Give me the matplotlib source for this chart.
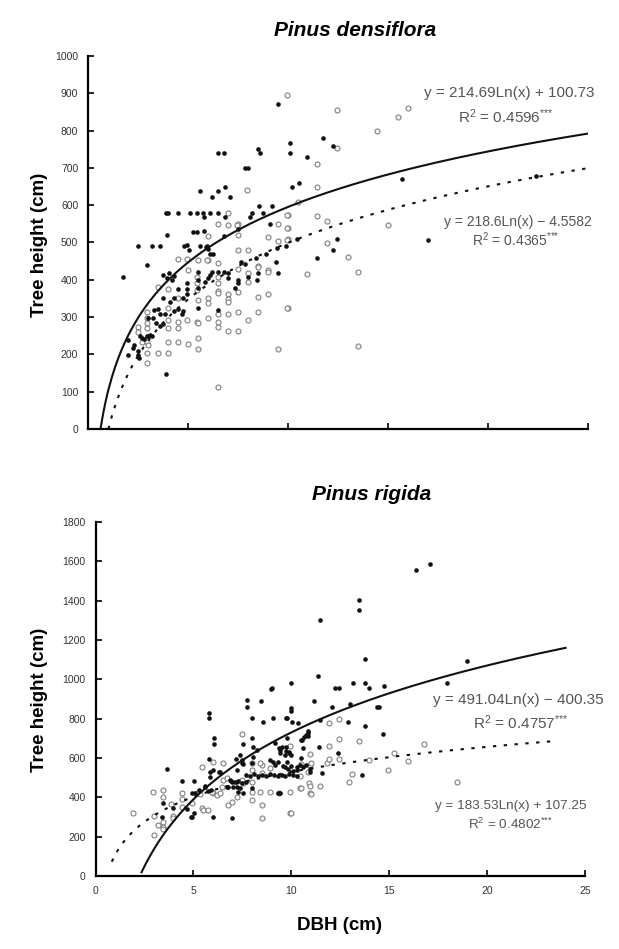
import numpy as np
import matplotlib
matplotlib.use("Agg")
import matplotlib.pyplot as plt

plt.rcParams['font.family'] = ['Liberation Sans', 'DejaVu Sans']
plt.rcParams['mathtext.default'] = 'regular'

# ---- Pinus densiflora (top) ----
top_filled_x = [1.75, 2.5, 3.2, 3.6, 2.95, 3.9, 4.0, 4.5, 5.1, 5.46, 5.76, 6.1, 6.5,
                5.6, 6.5, 6.86, 6.2, 7.1, 3.95, 4.95, 5.05, 5.26, 5.46, 5.6, 5.96, 6.1, 6.26, 4.8,
                6.5, 6.8, 8.5, 8.6, 10.1, 10.1, 7.86, 8.0, 10.2, 10.56, 5.8, 6.86, 8.1, 8.2, 8.76,
                8.56, 9.2, 7.5, 5.8, 6.8, 9.1, 10.46, 5.9, 6.0, 9.9, 9.46, 7.66, 7.86, 8.9, 8.4,
                9.4, 9.5, 3.75, 3.95, 4.2, 4.05, 4.3, 4.5, 4.95, 4.95, 4.95, 3.75, 4.3, 4.75,
                3.3, 3.5, 3.6, 3.85, 4.1, 4.3, 4.5, 4.7, 3.0, 3.25, 3.4, 3.6, 3.75, 4.75,
                2.6, 2.7, 2.8, 2.95, 3.0, 3.1, 3.2, 2.3, 2.25, 2.5, 2.5, 2.55, 2.0, 3.9, 2.0,
                5.5, 5.5, 5.5, 5.5, 5.86, 6.0, 6.1, 6.2, 6.5, 6.8, 7.0, 7.0, 7.5, 7.5, 7.36,
                8.0, 8.46, 8.5, 9.5, 6.5, 11.76, 12.26, 10.96, 15.7, 22.4, 12.46, 12.26, 11.46, 17.0]
top_filled_y = [408, 491, 491, 491, 440, 579, 579, 579, 579, 579, 579, 579, 579,
                638, 638, 649, 622, 622, 520, 493, 480, 528, 528, 491, 491, 469, 469, 491,
                740, 740, 751, 740, 767, 740, 700, 700, 649, 660, 568, 568, 568, 579, 579,
                598, 598, 536, 531, 517, 550, 509, 488, 483, 491, 485, 448, 442, 469, 458,
                448, 870, 413, 405, 400, 418, 410, 375, 391, 375, 362, 351, 351, 351,
                319, 322, 308, 308, 340, 316, 322, 308, 298, 298, 284, 276, 282, 316,
                249, 244, 241, 249, 249, 252, 249, 225, 217, 209, 198, 190, 198, 147, 239,
                421, 399, 378, 324, 394, 405, 413, 421, 421, 421, 418, 405, 399, 391, 378,
                408, 399, 418, 418, 319, 780, 759, 729, 670, 678, 509, 480, 458, 507]

top_open_x = [7.96, 7.0, 10.0, 10.5, 6.5, 7.0, 7.5, 6.0, 7.5, 9.5, 10.0, 9.0, 9.5, 10.0,
              7.5, 8.0, 5.5, 6.0, 6.5, 8.5, 3.5, 4.0, 5.0, 5.46, 5.46, 4.0, 4.5,
              2.95, 2.95, 2.95, 2.95, 2.5, 2.5, 4.0, 4.0, 4.5, 4.5, 4.95, 5.46,
              2.7, 2.95, 3.0, 2.95, 3.5, 4.0, 4.0, 4.5, 5.0, 2.95,
              6.5, 6.5, 6.5, 6.5, 7.5, 7.5, 7.0, 7.0, 7.0, 8.0, 8.0, 8.5, 9.0, 9.0,
              6.0, 6.0, 5.5, 8.5, 9.0, 10.0, 6.5, 6.0, 5.5, 7.0, 7.5, 8.0, 8.5,
              6.5, 6.5, 7.0, 7.5, 5.5, 5.5, 9.5, 6.5, 4.5, 4.95, 5.46, 5.96, 7.46,
              9.96, 12.46, 15.5, 16.0, 14.46, 12.46, 11.46, 11.46, 9.96, 9.96, 9.96,
              11.46, 11.96, 15.0, 11.96, 13.0, 13.5, 10.96, 9.96, 13.5]
top_open_y = [641, 579, 574, 609, 550, 547, 550, 517, 520, 550, 539, 515, 504, 509,
              480, 480, 453, 453, 445, 437, 381, 375, 426, 391, 373, 324, 351,
              314, 298, 284, 271, 273, 260, 292, 271, 287, 271, 292, 287,
              233, 233, 225, 204, 204, 204, 233, 233, 228, 177,
              408, 391, 370, 365, 429, 367, 362, 349, 340, 418, 394, 434, 426, 421,
              351, 338, 346, 354, 362, 324, 308, 298, 284, 308, 314, 292, 314,
              287, 273, 263, 263, 244, 214, 214, 113, 456, 456, 408, 453, 547,
              895, 855, 836, 861, 799, 753, 710, 649, 574, 539, 507,
              571, 558, 547, 499, 461, 421, 416, 324, 223]

top_fit_filled = (214.69, 100.73)   # y = a*ln(x) + b
top_fit_open = (218.6, -4.5582)
top_fit_filled_range = (0.63, 25.0)
top_fit_open_range = (1.02, 25.0)

# ---- Pinus rigida (bottom) ----
bot_filled_x = [3.45, 3.65, 3.4, 3.96, 4.42, 5.03, 4.67, 4.93, 5.03, 4.93, 5.08,
                5.8, 5.8, 6.05, 6.05, 5.8, 6.31, 5.85, 7.74, 7.74, 8.45, 9.01, 8.0, 8.55, 9.07,
                8.0, 7.53, 7.18, 7.48, 7.23, 8.04, 8.25, 9.17, 9.42, 9.68, 9.88, 9.07, 9.32, 9.58,
                6.97, 6.0, 4.88, 9.42, 7.23, 7.28, 6.72, 6.87, 5.29, 5.59, 5.9,
                9.98, 8.96, 9.73, 9.98, 9.98, 10.04, 10.34, 8.04, 9.37, 9.73, 9.98, 10.55, 10.75, 10.85,
                7.38, 7.48, 7.53, 8.0, 8.91, 9.17, 9.68, 9.83, 9.98, 10.09, 10.29, 10.45, 10.6, 10.75,
                7.7, 7.9, 8.1, 8.3, 8.5, 8.7, 8.9, 9.1, 9.3, 9.5, 9.7, 9.9, 10.1, 10.3,
                6.9, 7.1, 7.3, 7.5, 7.7, 6.0, 6.36, 5.85, 6.97, 7.02, 6.77, 5.59, 5.75, 7.38, 7.53, 8.0, 9.32,
                16.35, 17.08, 13.46, 13.46, 11.47, 13.76, 11.35, 12.23, 12.45, 13.17, 13.76, 13.98, 14.75,
                11.17, 12.09, 13.0, 14.36, 14.48, 11.47, 12.88, 13.76, 14.67, 10.84, 10.84, 12.4,
                10.96, 10.96, 11.55, 13.6, 18.99, 17.97, 9.8, 9.77, 9.9, 9.77, 10.28, 10.48, 10.58,
                10.65, 10.48, 11.43, 9.51, 9.73, 9.42]
bot_filled_y = [372, 545, 300, 346, 484, 484, 341, 300, 321, 422, 422,
                830, 804, 702, 672, 596, 529, 529, 896, 860, 891, 957, 804, 784, 804,
                702, 672, 596, 575, 540, 606, 641, 677, 641, 616, 631, 580, 580, 560,
                295, 300, 300, 422, 453, 428, 453, 489, 438, 458, 438,
                982, 952, 804, 855, 840, 784, 779, 657, 652, 657, 616, 692, 718, 728,
                616, 590, 570, 575, 590, 565, 555, 545, 560, 534, 555, 565, 555, 565,
                514, 509, 519, 509, 514, 509, 519, 514, 509, 514, 509, 519, 514, 509,
                484, 478, 484, 473, 478, 540, 529, 504, 478, 453, 453, 453, 433, 448, 422, 448, 422,
                1554, 1588, 1405, 1354, 1303, 1103, 1015, 955, 955, 984, 984, 955, 964,
                892, 857, 875, 862, 862, 794, 782, 764, 723, 735, 713, 625,
                543, 531, 526, 514, 1091, 984, 803, 701, 625, 582, 540, 599, 650,
                709, 692, 658, 658, 638, 625]

bot_open_x = [1.92, 2.94, 3.45, 3.45, 2.99, 3.19, 3.45, 3.45, 3.45, 2.99, 3.86, 3.96, 3.96,
              4.42, 4.42, 4.42, 4.93, 5.18, 5.44, 5.44, 6.0, 6.51, 7.48, 8.0, 8.0, 8.5, 8.5,
              7.53, 8.0, 8.0, 8.5, 8.5, 5.49, 5.75, 6.77, 6.97, 9.93, 9.93, 6.51, 6.72, 5.34,
              6.0, 6.2, 9.93, 8.91, 8.4, 7.48, 8.0, 5.95, 6.46, 6.36, 7.23, 8.4, 8.91, 9.37,
              10.45, 10.45, 10.85, 10.9, 11.94, 12.45, 11.94, 12.45, 13.46, 10.96, 10.96, 11.8,
              11.93, 12.45, 13.08, 12.96, 13.98, 15.26, 15.94, 14.95, 16.79, 10.96, 11.47, 10.96,
              18.45, 9.97, 10.48, 10.99, 10.48, 10.99]
bot_open_y = [321, 428, 438, 402, 305, 260, 275, 249, 239, 209, 366, 305, 295,
              422, 392, 351, 372, 422, 555, 346, 580, 575, 723, 575, 540, 565, 524,
              473, 428, 387, 361, 295, 336, 336, 361, 377, 428, 321, 489, 499, 417,
              422, 412, 662, 550, 575, 489, 478, 428, 453, 422, 402, 428, 428, 422,
              448, 509, 529, 473, 780, 798, 662, 696, 687, 621, 565, 577,
              594, 594, 519, 480, 590, 628, 585, 540, 672, 458, 458, 421,
              480, 322, 446, 417, 570, 574]

bot_fit_filled = (491.04, -400.35)
bot_fit_open = (183.53, 107.25)
bot_fit_filled_range = (2.35, 24.0)
bot_fit_open_range = (0.83, 23.4)

eq_color = '#555555'
dot_style = (0, (1.6, 3.6))
stars = '$^{{*}{*}{*}}$'

fig = plt.figure(figsize=(6.19, 9.49), dpi=100)
ax1 = fig.add_axes([0.1422, 0.548, 0.807, 0.393])
ax2 = fig.add_axes([0.1543, 0.0769, 0.791, 0.373])


def draw_panel(ax, fx, fy, ox, oy, fit_f, fit_o, rng_f, rng_o):
    ax.scatter(ox, oy, s=13, facecolors='white', edgecolors='#808080', linewidths=0.8, zorder=2)
    ax.scatter(fx, fy, s=11, color='#111111', linewidths=0, zorder=3)
    xs = np.linspace(rng_f[0], rng_f[1], 300)
    ax.plot(xs, fit_f[0] * np.log(xs) + fit_f[1], color='#111111', lw=1.5, zorder=4)
    xs = np.linspace(rng_o[0], rng_o[1], 300)
    ax.plot(xs, fit_o[0] * np.log(xs) + fit_o[1], color='#111111', lw=1.5,
            linestyle=dot_style, zorder=4)
    for s in ['top', 'right']:
        ax.spines[s].set_visible(False)
    for s in ['left', 'bottom']:
        ax.spines[s].set_linewidth(1.6)
    ax.tick_params(direction='in', length=4, width=1.2, labelsize=7.5,
                   labelcolor='#333333', pad=7)
    ax.set_xlim(0, 25)
    ax.set_xticks(range(0, 26, 5))


draw_panel(ax1, top_filled_x, top_filled_y, top_open_x, top_open_y,
           top_fit_filled, top_fit_open, top_fit_filled_range, top_fit_open_range)
ax1.set_ylim(0, 1000)
ax1.set_yticks(range(0, 1001, 100))
ax1.set_xticklabels([])

draw_panel(ax2, bot_filled_x, bot_filled_y, bot_open_x, bot_open_y,
           bot_fit_filled, bot_fit_open, bot_fit_filled_range, bot_fit_open_range)
ax2.set_ylim(0, 1800)
ax2.set_yticks(range(0, 1801, 200))

# equations
ax1.text(25.35, 900, 'y = 214.69Ln(x) + 100.73', ha='right', va='center', fontsize=11, color=eq_color)
ax1.text(20.9, 836, 'R$^2$ = 0.4596' + stars, ha='center', va='center', fontsize=11, color=eq_color)
ax1.text(21.5, 555, 'y = 218.6Ln(x) \u2212 4.5582', ha='center', va='center', fontsize=10, color=eq_color)
ax1.text(21.4, 507, 'R$^2$ = 0.4365' + stars, ha='center', va='center', fontsize=10, color=eq_color)

ax2.text(21.6, 896, 'y = 491.04Ln(x) \u2212 400.35', ha='center', va='center', fontsize=11, color=eq_color)
ax2.text(21.7, 779, 'R$^2$ = 0.4757' + stars, ha='center', va='center', fontsize=11, color=eq_color)
ax2.text(21.2, 356, 'y = 183.53Ln(x) + 107.25', ha='center', va='center', fontsize=9.7, color=eq_color)
ax2.text(21.2, 260, 'R$^2$ = 0.4802' + stars, ha='center', va='center', fontsize=9.7, color=eq_color)

# titles and labels
fig.text(355 / 619, 1 - 30 / 949, 'Pinus densiflora', ha='center', va='center',
         fontsize=15, fontweight='bold', fontstyle='italic')
fig.text(372 / 619, 1 - 495 / 949, 'Pinus rigida', ha='center', va='center',
         fontsize=15, fontweight='bold', fontstyle='italic')
fig.text(40 / 619, 1 - 245 / 949, 'Tree height (cm)', rotation=90, ha='center', va='center',
         fontsize=13.5, fontweight='bold')
fig.text(40 / 619, 1 - 700 / 949, 'Tree height (cm)', rotation=90, ha='center', va='center',
         fontsize=13.5, fontweight='bold')
fig.text(340 / 619, 1 - 925 / 949, 'DBH (cm)', ha='center', va='center',
         fontsize=13.5, fontweight='bold')

fig.savefig('out.png', dpi=100)
